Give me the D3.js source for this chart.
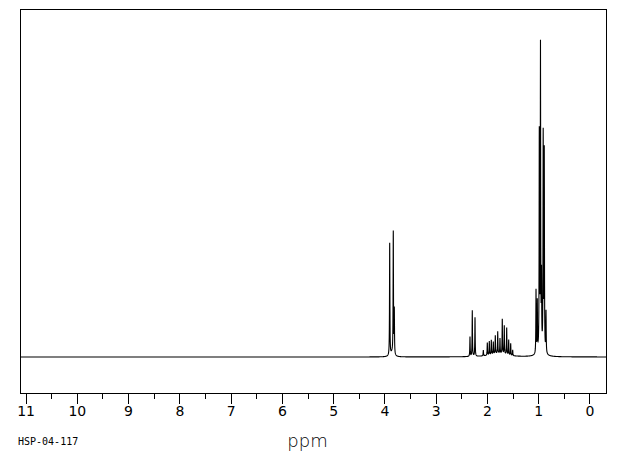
<!DOCTYPE html>
<html>
<head>
<meta charset="utf-8">
<script src="https://cdn.jsdelivr.net/npm/d3@7"></script>
<style>
  body { margin: 0; background: #fff; }
  svg { display: block; }
</style>
</head>
<body>
<div id="chart"></div>
<script>
const width = 620
const height = 455

// peak list: shift (ppm) and height (tallest = 100)
const peakShifts = [3.897, 3.827, 3.807, 3.85,
                    2.331, 2.286, 2.233,
                    2.071, 1.993, 1.954, 1.915, 1.876, 1.837, 1.790, 1.746,
                    1.701, 1.662, 1.615, 1.576, 1.537, 1.498, 1.78,
                    1.043, 1.018, 0.979, 0.956, 0.936, 0.903, 0.882, 0.848, 0.95]
const peakHeights = [35.5, 38.5, 14, 1.2,
                     6.2, 14.5, 12.3,
                     1.8, 4.0, 4.3, 4.6, 3.9, 5.8, 7.0, 4.8,
                     11.0, 9.0, 8.5, 4.8, 3.8, 1.8, 1.0,
                     20, 16, 68, 95, 22, 68, 63, 13, 1.5]
const peakWidths = [0.004, 0.004, 0.004, 0.03,
                    0.004, 0.004, 0.004,
                    0.004, 0.004, 0.004, 0.004, 0.004, 0.004, 0.004, 0.004,
                    0.004, 0.004, 0.004, 0.004, 0.004, 0.004, 0.2,
                    0.004, 0.004, 0.004, 0.004, 0.004, 0.004, 0.004, 0.004, 0.06]

const ppmDomain = [11.108, -0.322]
const intensityDomain = [-11.36, 109.78]
const majorTicks = [11, 10, 9, 8, 7, 6, 5, 4, 3, 2, 1, 0]
const minorTicks = [10.5, 9.5, 8.5, 7.5, 6.5, 5.5, 4.5, 3.5, 2.5, 1.5, 0.5]
const sampleId = "HSP-04-117"
const axisTitle = "ppm"

const margin = {left: 20, right: 14, top: 9, bottom: 62}

const x = d3.scaleLinear().domain(ppmDomain).range([margin.left, width - margin.right])
const y = d3.scaleLinear().domain(intensityDomain).range([height - margin.bottom, margin.top])

// build the trace from the lorentzian peaks
function intensityAt(p){
    let s = 0
    for(let i = 0; i < peakShifts.length; i++){
        const w = peakWidths[i]
        const d = p - peakShifts[i]
        s += peakHeights[i] * w * w / (d * d + w * w)
    }
    return s
}

let samples = d3.range(ppmDomain[1], ppmDomain[0], 0.002).concat(peakShifts)
samples.sort((a, b) => b - a)
const trace = samples.map(p => [p, intensityAt(p)])

const svg = d3.select("#chart")
  .append("svg")
  .attr("width", width)
  .attr("height", height)
  .attr("viewBox", [0, 0, width, height])

svg.append("path")
  .datum(trace)
  .attr("fill", "none")
  .attr("stroke", "#000")
  .attr("stroke-width", 1.1)
  .attr("d", d3.line().x(d => x(d[0])).y(d => y(d[1])))

svg.append("rect")
  .attr("x", margin.left + 0.5)
  .attr("y", margin.top + 0.5)
  .attr("width", width - margin.left - margin.right)
  .attr("height", height - margin.top - margin.bottom)
  .attr("fill", "none")
  .attr("stroke", "#000")
  .attr("stroke-width", 1)
  .attr("shape-rendering", "crispEdges")

const axisY = height - margin.bottom + 0.5

const xAxis = d3.axisBottom(x)
  .tickValues(majorTicks)
  .tickSize(10)
  .tickSizeOuter(0)
  .tickPadding(3)
  .tickFormat(d3.format("d"))

const gx = svg.append("g")
  .attr("transform", `translate(0,${axisY})`)
  .attr("shape-rendering", "crispEdges")
  .call(xAxis)

gx.select(".domain").remove()
gx.selectAll("text")
  .attr("font-family", "DejaVu Sans, sans-serif")
  .attr("font-size", 14)
  .attr("fill", "#000")

svg.append("g")
  .attr("transform", `translate(0,${axisY})`)
  .attr("shape-rendering", "crispEdges")
  .call(d3.axisBottom(x).tickValues(minorTicks).tickSize(5).tickSizeOuter(0).tickFormat(""))
  .select(".domain").remove()

svg.append("text")
  .attr("x", x(5.5))
  .attr("y", 447)
  .attr("text-anchor", "middle")
  .attr("font-family", "DejaVu Sans, sans-serif")
  .attr("font-size", 18)
  .attr("font-weight", 300)
  .text(axisTitle)

svg.append("text")
  .attr("x", 18)
  .attr("y", 445)
  .attr("font-family", "DejaVu Sans Mono, monospace")
  .attr("font-size", 10)
  .text(sampleId)
</script>
</body>
</html>
